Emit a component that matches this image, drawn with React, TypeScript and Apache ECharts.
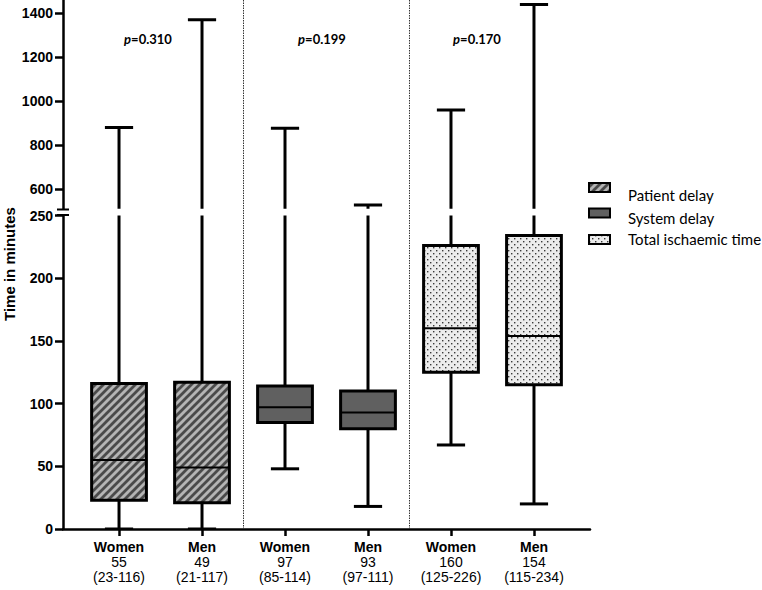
import React, { useEffect, useRef } from "react";
import * as echarts from "echarts";

// ---------- data ----------
const groupLabels = ["Women", "Men", "Women", "Men", "Women", "Men"];
const medianLabels = ["55", "49", "97", "93", "160", "154"];
const iqrLabels = ["(23-116)", "(21-117)", "(85-114)", "(97-111)", "(125-226)", "(115-234)"];
// [position, min, q1, median, q3, max]
const patientDelay = [
  [0, 0, 23, 55, 116, 880],
  [1, 0, 21, 49, 117, 1370],
];
const systemDelay = [
  [2, 48, 85, 97, 114, 877],
  [3, 18, 80, 93, 110, 527],
];
const totalTime = [
  [4, 67, 125, 160, 226, 960],
  [5, 20, 115, 154, 234, 1440],
];
const seriesNames = ["Patient delay", "System delay", "Total ischaemic time"];
const pValues = ["0.310", "0.199", "0.170"];
const lowerTicks = [0, 50, 100, 150, 200, 250];
const upperTicks = [600, 800, 1000, 1200, 1400];
const separators = [1.5, 3.5];

// ---------- layout ----------
const W = 762;
const H = 590;
const GL = 63;
const GR = 590;
const X_MIN = -0.675;
const X_MAX = 5.675;
const LOW_TOP = 215.5;
const LOW_BOTTOM = 529;
const UP_BOTTOM = 208.8;
const ARIAL = "Liberation Sans";
const CAL = "Lato";

function makePattern(kind: string): any {
  const c = document.createElement("canvas");
  if (kind === "stripes") {
    c.width = 8;
    c.height = 8;
    const g = c.getContext("2d")!;
    g.fillStyle = "#b4b4b4";
    g.fillRect(0, 0, 8, 8);
    g.strokeStyle = "#4a4a4a";
    g.lineWidth = 2.8;
    g.beginPath();
    g.moveTo(-1, 9); g.lineTo(9, -1);
    g.moveTo(-5, 5); g.lineTo(5, -5);
    g.moveTo(3, 13); g.lineTo(13, 3);
    g.stroke();
    return { image: c, repeat: "repeat", imageWidth: 8, imageHeight: 8 };
  }
  c.width = 6;
  c.height = 6;
  const g = c.getContext("2d")!;
  g.fillStyle = "#ececec";
  g.fillRect(0, 0, 6, 6);
  g.fillStyle = "#3a3a3a";
  g.fillRect(1, 1, 1.4, 1.4);
  g.fillRect(4, 4, 1.4, 1.4);
  return { image: c, repeat: "repeat", imageWidth: 6, imageHeight: 6 };
}

function makeRender(fill: any) {
  return (params: any, api: any) => {
    const x = api.value(0);
    const mn = api.value(1);
    const q1 = api.value(2);
    const md = api.value(3);
    const q3 = api.value(4);
    const mx = api.value(5);
    const unit = api.size([1, 0])[0];
    const bw = unit * 0.66;
    const cw = unit * 0.34;
    const pMin = api.coord([x, mn]);
    const pQ1 = api.coord([x, q1]);
    const pMd = api.coord([x, md]);
    const pQ3 = api.coord([x, q3]);
    const pMax = api.coord([x, mx]);
    const cx = pMin[0];
    const ls = { stroke: "#000", lineWidth: 3 };
    return {
      type: "group",
      children: [
        { type: "line", shape: { x1: cx, y1: pQ1[1], x2: cx, y2: pMin[1] }, style: ls },
        { type: "line", shape: { x1: cx - cw / 2, y1: pMin[1], x2: cx + cw / 2, y2: pMin[1] }, style: ls },
        { type: "line", shape: { x1: cx, y1: pQ3[1], x2: cx, y2: pMax[1] }, style: ls },
        { type: "line", shape: { x1: cx - cw / 2, y1: pMax[1], x2: cx + cw / 2, y2: pMax[1] }, style: ls },
        {
          type: "rect",
          shape: { x: cx - bw / 2, y: pQ3[1], width: bw, height: pQ1[1] - pQ3[1] },
          style: { fill, stroke: "#000", lineWidth: 3 },
        },
        { type: "line", shape: { x1: cx - bw / 2, y1: pMd[1], x2: cx + bw / 2, y2: pMd[1] }, style: { stroke: "#000", lineWidth: 2 } },
      ],
    };
  };
}

export default function App() {
  const ref = useRef<HTMLDivElement>(null);
  useEffect(() => {
    if (!ref.current) return;
    const chart = echarts.init(ref.current, null, { renderer: "svg" });
    const fills = [makePattern("stripes"), "#606060", makePattern("dots")];
    const datasets = [patientDelay, systemDelay, totalTime];

    const series: any[] = [];
    [0, 1].forEach((gi) => {
      datasets.forEach((d, si) => {
        series.push({
          type: "custom",
          name: seriesNames[si],
          xAxisIndex: gi,
          yAxisIndex: gi,
          clip: true,
          renderItem: makeRender(fills[si]),
          encode: { x: 0, y: [1, 2, 3, 4, 5] },
          data: d,
        });
      });
    });

    const unit = (GR - GL) / (X_MAX - X_MIN);
    const sepLines = separators.map((s) => {
      const px = GL + (s - X_MIN) * unit;
      return {
        type: "line",
        shape: { x1: px, y1: 0, x2: px, y2: LOW_BOTTOM },
        style: { stroke: "#333", lineWidth: 1, lineDash: [1.5, 1] },
        z: 1,
      };
    });

    const pPos = [[148, 39], [322, 39], [477, 39]];
    const pTexts = pValues.map((p, i) => ({
      type: "text",
      x: pPos[i][0],
      y: pPos[i][1],
      style: {
        text: `{i|p}{b|=${p}}`,
        align: "center",
        verticalAlign: "middle",
        rich: {
          i: { fontFamily: CAL, fontWeight: "bold", fontStyle: "italic", fontSize: 13, fill: "#000" },
          b: { fontFamily: CAL, fontWeight: "bold", fontSize: 13, fill: "#000" },
        },
      },
      z: 10,
    }));

    const iconY = [187.5, 213, 239.5];
    const textY = [195, 218, 238.5];
    const legendItems: any[] = [];
    seriesNames.forEach((n, i) => {
      legendItems.push({
        type: "rect",
        shape: { x: 589, y: iconY[i] - 4.5, width: 21, height: 9 },
        style: { fill: fills[i], stroke: "#000", lineWidth: 2 },
        z: 10,
      });
      legendItems.push({
        type: "text",
        x: 628,
        y: textY[i],
        style: { text: n, fontFamily: CAL, fontSize: 15, fill: "#000", verticalAlign: "middle" },
        z: 10,
      });
    });

    const axisLine = { show: true, onZero: false, lineStyle: { color: "#000", width: 2.5 } };
    const yLabel = {
      color: "#000",
      fontFamily: ARIAL,
      fontWeight: "bold",
      fontSize: 14,
      margin: 10,
      formatter: (v: number) => String(v),
    };

    chart.setOption({
      animation: false,
      backgroundColor: "#fff",
      textStyle: { fontFamily: ARIAL },
      grid: [
        { left: GL, right: W - GR, top: LOW_TOP, bottom: H - LOW_BOTTOM },
        { left: GL, right: W - GR, top: 0, bottom: H - UP_BOTTOM },
      ],
      xAxis: [
        {
          type: "value",
          gridIndex: 0,
          min: X_MIN,
          max: X_MAX,
          axisLine,
          splitLine: { show: false },
          axisTick: { show: true, length: 7, lineStyle: { color: "#000", width: 2.5 }, customValues: [0, 1, 2, 3, 4, 5] },
          axisLabel: {
            customValues: [0, 1, 2, 3, 4, 5],
            margin: 10,
            fontFamily: ARIAL,
            formatter: (v: number) => {
              const i = Math.round(v);
              return `{b|${groupLabels[i]}}\n{n|${medianLabels[i]}}\n{n|${iqrLabels[i]}}`;
            },
            rich: {
              b: { fontFamily: ARIAL, fontWeight: "bold", fontSize: 14, lineHeight: 15, color: "#000" },
              n: { fontFamily: ARIAL, fontSize: 14, lineHeight: 15, color: "#000" },
            },
          },
        },
        {
          type: "value",
          gridIndex: 1,
          min: X_MIN,
          max: X_MAX,
          show: false,
          axisLine: { show: false, onZero: false },
          splitLine: { show: false },
        },
      ],
      yAxis: [
        {
          type: "value",
          gridIndex: 0,
          min: 0,
          max: 250,
          interval: 50,
          axisLine,
          splitLine: { show: false },
          axisTick: { show: true, length: 8, lineStyle: { color: "#000", width: 2.5 } },
          axisLabel: { ...yLabel, customValues: lowerTicks },
        },
        {
          type: "value",
          gridIndex: 1,
          min: 510,
          max: 1460,
          axisLine,
          splitLine: { show: false },
          axisTick: { show: true, length: 8, lineStyle: { color: "#000", width: 2.5 }, customValues: upperTicks },
          axisLabel: { ...yLabel, customValues: upperTicks },
        },
      ],
      series,
      graphic: [
        ...sepLines,
        { type: "line", shape: { x1: 57, y1: 209.5, x2: 69, y2: 209.5 }, style: { stroke: "#000", lineWidth: 2 }, z: 10 },
        { type: "line", shape: { x1: 57, y1: 215, x2: 69, y2: 215 }, style: { stroke: "#000", lineWidth: 2 }, z: 10 },
        {
          type: "text",
          x: 9,
          y: 264,
          rotation: Math.PI / 2,
          style: { text: "Time in minutes", fontFamily: ARIAL, fontWeight: "bold", fontSize: 15, fill: "#000", align: "center", verticalAlign: "middle" },
          z: 10,
        },
        ...pTexts,
        ...legendItems,
      ],
    });
    return () => chart.dispose();
  }, []);
  return <div ref={ref} style={{ position: "absolute", left: 0, top: 0, width: W, height: H, background: "#fff" }} />;
}
